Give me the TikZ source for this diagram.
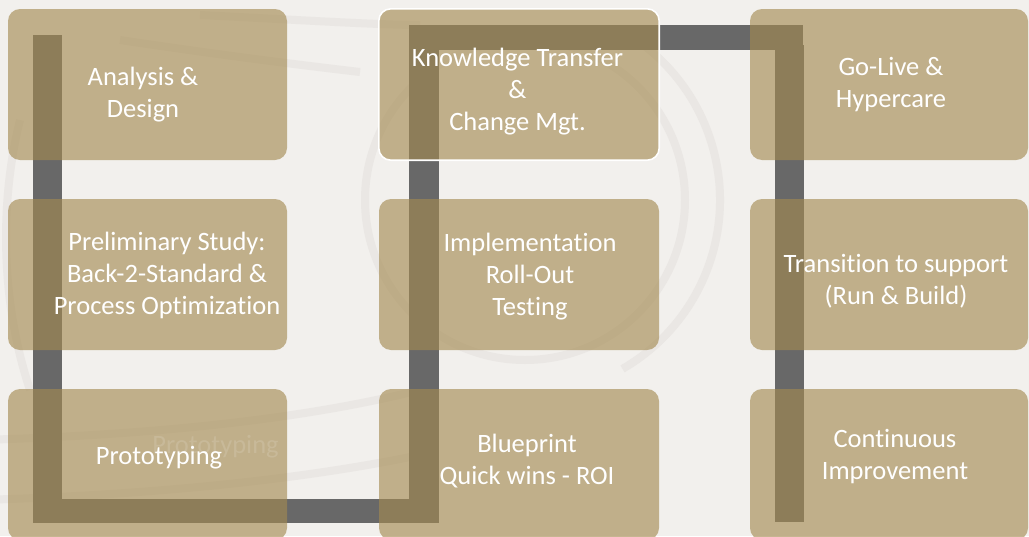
\documentclass[tikz,border=0pt]{standalone}
\usepackage{fontspec}
\setmainfont[Ligatures=NoCommon]{Carlito}
\definecolor{bg}{HTML}{F2F0ED}
\definecolor{barc}{HTML}{686868}
\definecolor{boxc}{HTML}{A48A51}
\definecolor{wm}{HTML}{EAE7E4}
\tikzset{
  phase/.style={draw=none, fill=boxc, fill opacity=0.63, rounded corners=12pt,
    minimum width=279pt, minimum height=151pt, inner sep=0pt},
  lbl/.style={text=white, font=\fontsize{26.5}{32}\selectfont, align=center, inner sep=0pt},
  ghost/.style={text=white, text opacity=0.13, font=\fontsize{26.5}{32}\selectfont, inner sep=0pt},
  barfill/.style={fill=barc},
  wmline/.style={draw=wm, line width=8pt},
}
\begin{document}
\begin{tikzpicture}[x=1pt,y=-1pt]
\useasboundingbox (0,0) rectangle (1029,536);
\clip (0,0) rectangle (1029,536);
\fill[bg] (0,0) rectangle (1029,536);
% faint watermark
\draw[wmline] (525,200) circle[radius=160];
\draw[wmline] (525,200) ++(-60:195) arc[start angle=-60, end angle=60, radius=195];
\draw[wmline] (-20,440) .. controls (150,435) and (300,420) .. (420,390);
\draw[wmline] (-20,500) .. controls (150,495) and (300,480) .. (420,455);
\draw[wmline] (200,15) .. controls (300,20) and (380,25) .. (420,25);
\draw[wmline] (120,40) .. controls (220,55) and (300,65) .. (360,72);
\draw[wmline] (20,120) .. controls (0,200) and (0,300) .. (30,390);
% process bars
\coordinate (v1t) at (33,35);  \coordinate (v1b) at (62,523);
\coordinate (h1l) at (35,499); \coordinate (h1r) at (436,523);
\coordinate (v2t) at (409,25); \coordinate (v2b) at (439,523);
\coordinate (h2l) at (409,25); \coordinate (h2r) at (803,50);
\coordinate (v3t) at (775,45); \coordinate (v3b) at (804,522);
\fill[barfill] (v1t) rectangle (v1b);
\fill[barfill] (h1l) rectangle (h1r);
\fill[barfill] (v2t) rectangle (v2b);
\fill[barfill] (h2l) rectangle (h2r);
\fill[barfill] (v3t) rectangle (v3b);
% boxes
\node[phase] (b11) at (147.5,84.5) {};
\node[phase] (b21) at (147.5,274.5) {};
\node[phase] (b31) at (147.5,464.5) {};
\node[phase, minimum width=280pt] (b12) at (519,84.5) {};
\node[phase, minimum width=280pt] (b22) at (519,274.5) {};
\node[phase, minimum width=280pt] (b32) at (519,464.5) {};
\node[phase, minimum width=278pt] (b13) at (889,84.5) {};
\node[phase, minimum width=278pt] (b23) at (889,274.5) {};
\node[phase, minimum width=278pt] (b33) at (889,464.5) {};
\draw[white, line width=1.6pt, rounded corners=12pt] (b12.south west) rectangle (b12.north east);
% labels
\node[lbl] (t11) at (143,94.5) {Analysis \&\\Design};
\node[lbl] (t12) at (517.5,91.5) {Knowledge Transfer\\\&\\Change Mgt.};
\node[lbl] (t13) at (891,85) {Go-Live \&\\Hypercare};
\node[lbl] (t21) at (167,275) {Preliminary Study:\\Back-2-Standard \&\\Process Optimization};
\node[lbl] (t22) at (530,276.5) {Implementation\\Roll-Out\\Testing};
\node[lbl] (t23) at (896,281) {Transition to support\\(Run \& Build)};
\node[ghost] (g31) at (215.5,446.5) {Prototyping};
\node[lbl] (t31) at (159,458) {Prototyping};
\node[lbl] (t32) at (527,461.5) {Blueprint\\Quick wins - ROI};
\node[lbl] (t33) at (895,456.5) {Continuous\\Improvement};
\end{tikzpicture}
\end{document}
